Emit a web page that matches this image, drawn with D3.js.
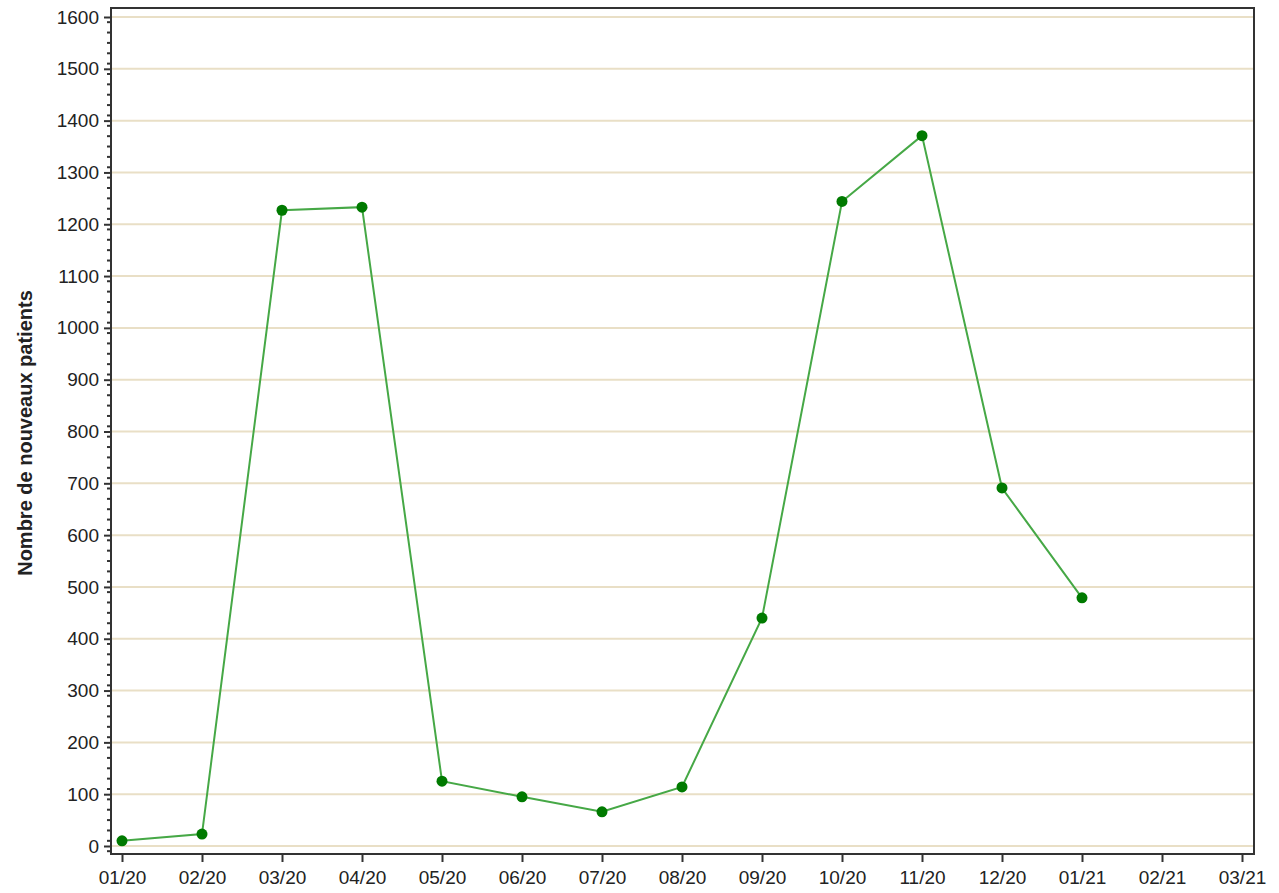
<!DOCTYPE html>
<html><head><meta charset="utf-8">
<script src="https://cdn.jsdelivr.net/npm/d3@7"></script>
<style>
html,body{margin:0;padding:0;background:#fff;}
svg{display:block;}
text{font-family:"Liberation Sans",Arial,sans-serif;fill:#222;}
</style></head>
<body>
<svg id="chart" width="1279" height="893"></svg>
<script>
const months = ["01/20","02/20","03/20","04/20","05/20","06/20","07/20","08/20","09/20","10/20","11/20","12/20","01/21","02/21","03/21"];
const values = [10,23,1227,1233,125,95,66,114,440,1244,1371,691,479];
const yTicks = [0,100,200,300,400,500,600,700,800,900,1000,1100,1200,1300,1400,1500,1600];
const yLabel = "Nombre de nouveaux patients";

const svg = d3.select("#chart");
const frame = {left:111, right:1254, top:8, bottom:854};

const x = d3.scalePoint().domain(months).range([122,1242]);
const y = d3.scaleLinear().domain([0,1600]).range([846,17]);

// gridlines
svg.append("g").selectAll("line").data(yTicks).join("line")
  .attr("x1",frame.left).attr("x2",frame.right)
  .attr("y1",d=>y(d)).attr("y2",d=>y(d))
  .attr("stroke","#e9dfc6").attr("stroke-width",2);

// frame
svg.append("rect").attr("x",frame.left).attr("y",frame.top)
  .attr("width",frame.right-frame.left).attr("height",frame.bottom-frame.top)
  .attr("fill","none").attr("stroke","#333").attr("stroke-width",2);

// y axis minor ticks
const minor = d3.range(-10,1601,20).filter(v=>v%100!==0 && y(v)<frame.bottom-1);
svg.append("g").selectAll("line").data(minor).join("line")
  .attr("x1",frame.left-4).attr("x2",frame.left)
  .attr("y1",d=>y(d)).attr("y2",d=>y(d))
  .attr("stroke","#333").attr("stroke-width",2);

// y axis
const yAxis = d3.axisLeft(y).tickValues(yTicks).tickSize(7).tickPadding(5).tickFormat(d3.format("d"));
const gy = svg.append("g").attr("transform",`translate(${frame.left},0)`).call(yAxis);
gy.select(".domain").remove();
gy.selectAll(".tick line").attr("stroke","#333").attr("stroke-width",2);
gy.selectAll(".tick text").style("font-size","19px").attr("fill","#333")
  .style("font-family","'Liberation Sans',Arial,sans-serif");

// x axis
const xAxis = d3.axisBottom(x).tickSize(8).tickPadding(9);
const gx = svg.append("g").attr("transform",`translate(0,${frame.bottom})`).call(xAxis);
gx.select(".domain").remove();
gx.selectAll(".tick line").attr("stroke","#333").attr("stroke-width",2);
gx.selectAll(".tick text").style("font-size","19px").attr("fill","#333")
  .style("font-family","'Liberation Sans',Arial,sans-serif");

// y label
svg.append("text").attr("transform","translate(32,433) rotate(-90)")
  .attr("text-anchor","middle").style("font-size","20px").style("font-weight","bold")
  .attr("fill","#111").text(yLabel);

// line
const data = values.map((v,i)=>({m:months[i],v}));
svg.append("path").datum(data)
  .attr("d",d3.line().x(d=>x(d.m)).y(d=>y(d.v)))
  .attr("fill","none").attr("stroke","#46a846").attr("stroke-width",2);

svg.append("g").selectAll("circle").data(data).join("circle")
  .attr("cx",d=>x(d.m)).attr("cy",d=>y(d.v)).attr("r",5.5)
  .attr("fill","#007a00");
</script>
</body></html>
